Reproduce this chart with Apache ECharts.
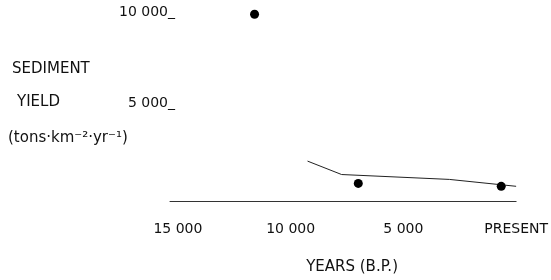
<!DOCTYPE html>
<html>
<head>
<meta charset="utf-8">
<script src="https://cdn.jsdelivr.net/npm/echarts@6/dist/echarts.min.js"></script>
<style>
  html, body { margin: 0; padding: 0; background: #fff; }
  #container { width: 551px; height: 280px; }
</style>
</head>
<body>
<div id="container"></div>
<script>
// years B.P. / sediment yield (tons km-2 yr-1)
let dotYears = [11600, 7000, 660];
let dotYield = [10300, 970, 810];
let lineYears = [9250, 7740, 2960, 0];
let lineYield = [2200, 1460, 1190, 810];
let xTicks = { 0: 'PRESENT', 5000: '5 000', 10000: '10 000', 15000: '15 000' };
let yTicks = { 5000: '5 000_', 10000: '10 000_' };

let font = '"DejaVu Sans", "Liberation Sans", sans-serif';

let option = {
    backgroundColor: '#fff',
    animation: false,
    grid: { left: 170, right: 34, top: 1.5, bottom: 75 },
    xAxis: {
        type: 'value',
        inverse: true,
        min: 0,
        max: 15350,
        interval: 5000,
        name: 'YEARS (B.P.)',
        nameLocation: 'middle',
        nameGap: 59,
        nameTextStyle: { color: '#111', fontSize: 15, fontFamily: font, padding: [0, 0, 0, 18] },
        axisLine: { lineStyle: { color: '#333', width: 1 } },
        axisTick: { show: false },
        splitLine: { show: false },
        axisLabel: {
            margin: 21,
            color: '#111',
            fontSize: 14,
            fontFamily: font,
            formatter: function (v) { return xTicks[v] || ''; }
        }
    },
    yAxis: {
        type: 'value',
        min: 0,
        max: 11000,
        interval: 5000,
        axisLine: { show: false },
        axisTick: { show: false },
        splitLine: { show: false },
        axisLabel: {
            margin: -5,
            color: '#111',
            fontSize: 14,
            fontFamily: font,
            verticalAlign: 'bottom',
            lineHeight: 14,
            formatter: function (v) { return yTicks[v] || ''; }
        }
    },
    graphic: [
        { type: 'text', left: 12, top: 62, style: { text: 'SEDIMENT', fill: '#111', font: '15px ' + font } },
        { type: 'text', left: 17, top: 95, style: { text: 'YIELD', fill: '#111', font: '15px ' + font } },
        { type: 'text', left: 8, top: 131, style: { text: '(tons·km⁻²·yr⁻¹)', fill: '#111', font: '15px ' + font } }
    ],
    series: [
        {
            type: 'line',
            data: lineYears.map(function (x, i) { return [x, lineYield[i]]; }),
            showSymbol: false,
            lineStyle: { color: '#222', width: 1 },
            z: 2
        },
        {
            type: 'scatter',
            data: dotYears.map(function (x, i) { return [x, dotYield[i]]; }),
            symbolSize: 9,
            itemStyle: { color: '#000', opacity: 1 },
            z: 3
        }
    ]
};

let myChart = echarts.init(document.getElementById('container'));
myChart.setOption(option);
</script>
</body>
</html>
